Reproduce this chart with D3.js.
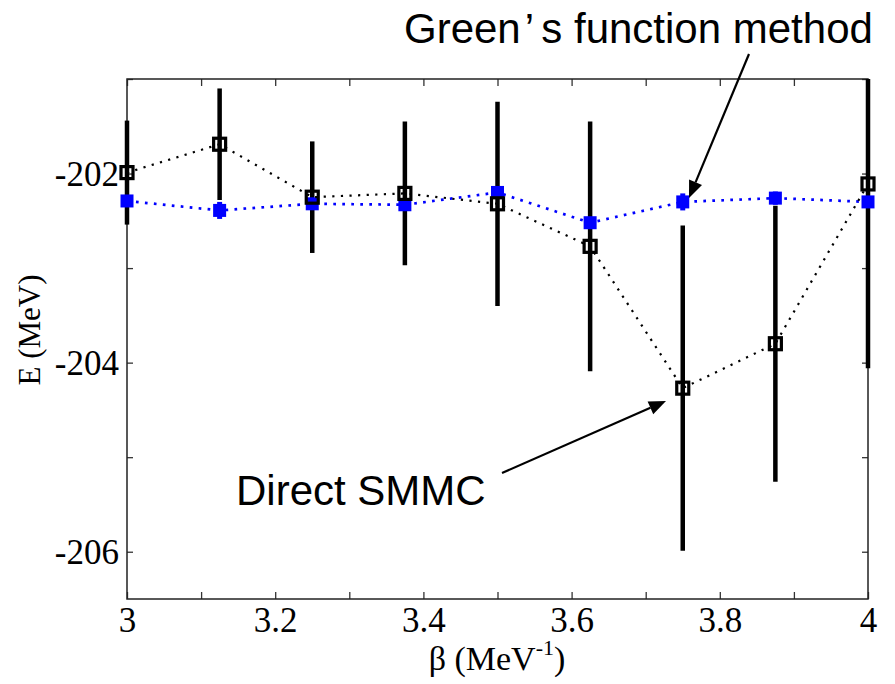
<!DOCTYPE html>
<html>
<head>
<meta charset="utf-8">
<script src="https://cdn.jsdelivr.net/npm/d3@7"></script>
<style>
  html, body { margin: 0; padding: 0; background: #fff; }
  svg { display: block; }
  .serif, .tick text { font-family: "Liberation Serif", "Times New Roman", Times, serif !important; }
</style>
</head>
<body>
<svg id="chart" width="895" height="684"></svg>
<script>
// ---- data ----
const beta = [3, 3.125, 3.25, 3.375, 3.5, 3.625, 3.75, 3.875, 4];
const greenE = [-202.29, -202.39, -202.32, -202.33, -202.20, -202.52, -202.30, -202.26, -202.30];
const greenErr = [0.05, 0.09, 0.05, 0.05, 0.05, 0.05, 0.09, 0.07, 0.05];
const smmcE = [-201.99, -201.69, -202.25, -202.21, -202.32, -202.77, -204.27, -203.80, -202.11];
const smmcErr = [0.55, 0.59, 0.59, 0.76, 1.08, 1.32, 1.72, 1.46, 1.95];
const xTickValues = [3, 3.1, 3.2, 3.3, 3.4, 3.5, 3.6, 3.7, 3.8, 3.9, 4];
const xTickLabels = [3, 3.2, 3.4, 3.6, 3.8, 4];
const yTickValues = [-206, -205, -204, -203, -202, -201];
const yTickLabels = [-206, -204, -202];
const xDomain = [3, 4];
const yDomain = [-206.5, -201];

// ---- layout ----
const svg = d3.select("#chart");
const L = 127, R = 868, T = 79, B = 599;
const x = d3.scaleLinear().domain(xDomain).range([L, R]);
const y = d3.scaleLinear().domain(yDomain).range([B, T]);
const clampY = v => Math.max(yDomain[0], Math.min(yDomain[1], v));

const serif = "Liberation Serif";
const sans = "Liberation Sans";
const tickColor = "#333";

// axes
const fmtX = d => xTickLabels.some(v => Math.abs(v - d) < 1e-9) ? String(d) : "";
const fmtY = d => yTickLabels.includes(d) ? String(d) : "";

const gB = svg.append("g").attr("transform", `translate(0,${B})`)
  .call(d3.axisBottom(x).tickValues(xTickValues).tickSize(-7).tickPadding(8).tickFormat(fmtX));
const gT = svg.append("g").attr("transform", `translate(0,${T})`)
  .call(d3.axisTop(x).tickValues(xTickValues).tickSize(-7).tickFormat(""));
const gL = svg.append("g").attr("transform", `translate(${L},0)`)
  .call(d3.axisLeft(y).tickValues(yTickValues).tickSize(-6).tickPadding(8).tickFormat(fmtY));
const gR = svg.append("g").attr("transform", `translate(${R},0)`)
  .call(d3.axisRight(y).tickValues(yTickValues).tickSize(-6).tickFormat(""));

[gB, gT, gL, gR].forEach(g => {
  g.attr("font-family", serif).attr("font-size", 35);
  g.select(".domain").remove();
  g.selectAll(".tick line").attr("stroke", tickColor).attr("stroke-width", 1.3);
  g.selectAll(".tick text").attr("fill", "#000")
    .attr("font-family", serif).attr("font-size", 35).attr("class", "serif");
});
gL.selectAll(".tick text").attr("dy", "0.34em");

// frame
svg.append("rect").attr("x", L).attr("y", T).attr("width", R - L).attr("height", B - T)
  .attr("fill", "none").attr("stroke", "#222").attr("stroke-width", 1.5);

// axis titles
const xt = svg.append("text").attr("class", "serif").attr("x", 497).attr("y", 670)
  .attr("text-anchor", "middle").attr("font-family", serif).attr("font-size", 34);
xt.append("tspan").text("β (MeV");
xt.append("tspan").attr("dy", -15).attr("font-size", 22).text("-1");
xt.append("tspan").attr("dy", 15).text(")");

svg.append("text").attr("class", "serif").attr("transform", `translate(40,330) rotate(-90)`)
  .attr("text-anchor", "middle").attr("font-family", serif).attr("font-size", 31)
  .text("E (MeV)");

// ---- series ----
const pts = beta.map((b, i) => ({ b, g: greenE[i], ge: greenErr[i], s: smmcE[i], se: smmcErr[i] }));

// SMMC error bars
svg.append("g").selectAll("line").data(pts).join("line")
  .attr("x1", d => x(d.b)).attr("x2", d => x(d.b))
  .attr("y1", d => y(clampY(d.s + d.se))).attr("y2", d => y(clampY(d.s - d.se)))
  .attr("stroke", "#000").attr("stroke-width", 4.5);

// Green's function line, error bars and markers
const line = (key) => d3.line().x(d => x(d.b)).y(d => y(d[key]));
svg.append("path").datum(pts).attr("d", line("g"))
  .attr("fill", "none").attr("stroke", "#0000ff").attr("stroke-width", 2.7)
  .attr("stroke-dasharray", "2.7 6.3");
svg.append("g").selectAll("line").data(pts).join("line")
  .attr("x1", d => x(d.b)).attr("x2", d => x(d.b))
  .attr("y1", d => y(d.g + d.ge)).attr("y2", d => y(d.g - d.ge))
  .attr("stroke", "#0000ff").attr("stroke-width", 5);
svg.append("g").selectAll("rect").data(pts).join("rect")
  .attr("x", d => x(d.b) - 6.5).attr("y", d => y(d.g) - 6.5)
  .attr("width", 13).attr("height", 13).attr("fill", "#0000ff");

// SMMC line and markers
svg.append("path").datum(pts).attr("d", line("s"))
  .attr("fill", "none").attr("stroke", "#000").attr("stroke-width", 2.2)
  .attr("stroke-dasharray", "2.2 6.4");
svg.append("g").selectAll("rect").data(pts).join("rect")
  .attr("x", d => x(d.b) - 6).attr("y", d => y(d.s) - 6)
  .attr("width", 12).attr("height", 12)
  .attr("fill", "none").attr("stroke", "#000").attr("stroke-width", 3.2);

// ---- annotations ----
function arrow(x1, y1, x2, y2) {
  const ang = Math.atan2(y2 - y1, x2 - x1);
  const len = 17, hw = 7;
  const bx = x2 - len * Math.cos(ang), by = y2 - len * Math.sin(ang);
  svg.append("line").attr("x1", x1).attr("y1", y1).attr("x2", bx).attr("y2", by)
    .attr("stroke", "#000").attr("stroke-width", 2.2);
  const px = -Math.sin(ang) * hw, py = Math.cos(ang) * hw;
  svg.append("path")
    .attr("d", `M${x2},${y2}L${bx + px},${by + py}L${bx - px},${by - py}Z`)
    .attr("fill", "#000");
}

const gt = svg.append("text").attr("x", 404).attr("y", 43)
  .attr("font-family", sans).attr("font-size", 42).attr("fill", "#000");
gt.append("tspan").text("Green");
gt.append("tspan").attr("dx", 4).text("’");
gt.append("tspan").attr("dx", 8).text("s function method");
arrow(749, 54, 689, 198);

svg.append("text").attr("x", 236).attr("y", 505)
  .attr("font-family", sans).attr("font-size", 42).attr("fill", "#000")
  .text("Direct SMMC");
arrow(502, 473, 666, 401);
</script>
</body>
</html>
